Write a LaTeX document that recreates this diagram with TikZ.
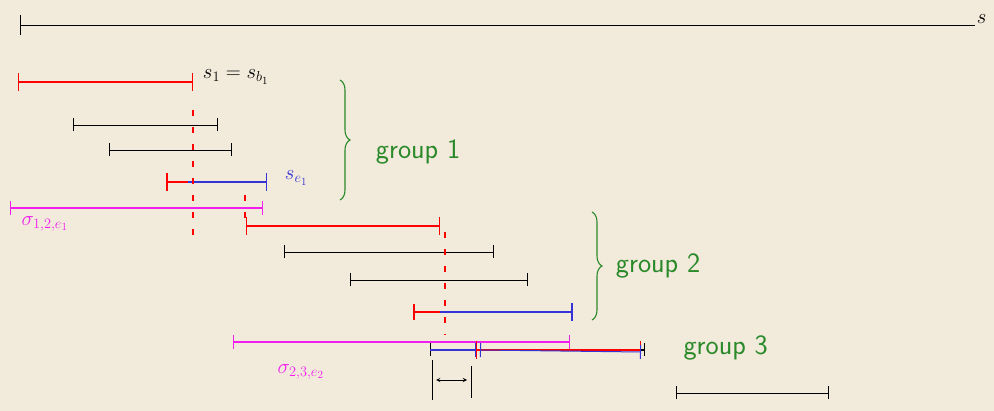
\documentclass[tikz,border=0pt]{standalone}
\usetikzlibrary{decorations.pathreplacing, arrows.meta}
\definecolor{paper}{HTML}{F2EADB}
\definecolor{grpgreen}{HTML}{2A8A2A}
\definecolor{penblue}{HTML}{3434D6}
\definecolor{penmag}{HTML}{F21EEE}
\tikzset{
  seg/.style={{Bar[width=13pt]}-{Bar[width=13pt]}, line width=0.9pt, black},
  redseg/.style={{Bar[width=18pt]}-{Bar[width=18pt]}, red, line width=1.3pt},
  blueseg/.style={-{Bar[width=18pt]}, penblue, line width=1.3pt},
  magseg/.style={{Bar[width=14pt]}-{Bar[width=14pt]}, penmag, line width=1.3pt},
  cut/.style={red, line width=1.1pt, dash pattern=on 6pt off 11pt},
  grpbrace/.style={grpgreen, line width=1.1pt, decorate, decoration={brace, amplitude=10pt}},
  grplabel/.style={grpgreen, font=\fontsize{28}{32}\selectfont\sffamily, right},
  mathlabel/.style={font=\fontsize{21}{24}\selectfont},
}
\begin{document}
\begin{tikzpicture}[x=1pt, y=-1pt, >=stealth]
    \fill[paper] (0,0) rectangle (994,411);
    \useasboundingbox (0,0) rectangle (994,411);

    % ganze Strecke S
    \coordinate (s0) at (20,25);
    \coordinate (s1) at (975,25);
    \draw[{Bar[width=20pt]}-, line width=0.9pt] (s0) -- (s1) node[right, mathlabel, xshift=-2pt, yshift=6pt] (slab) {$s$};

    % Gruppe 1
    \coordinate (a0) at (18,82);   \coordinate (a1) at (193,82);
    \coordinate (b0) at (73,125);  \coordinate (b1) at (218,125);
    \coordinate (c0) at (109,150); \coordinate (c1) at (232,150);
    \coordinate (d0) at (166,182); \coordinate (dm) at (188,182); \coordinate (d1) at (267,182);
    \draw[seg] (a0) -- (a1);
    \draw[redseg] (a0) -- (a1) node[right, black, mathlabel, xshift=6pt, yshift=5pt] (lab1) {$s_1 = s_{b_1}$};
    \draw[seg] (b0) -- (b1);
    \draw[seg] (c0) -- (c1);
    \draw[seg] (d0) -- (d1);
    \draw[red, {Bar[width=18pt]}-, line width=1.8pt] (d0) -- (dm);
    \draw[blueseg] (dm) -- (d1) node[right, penblue, mathlabel, xshift=14pt, yshift=4pt] (lab2) {$s_{e_1}$};

    % Schnitte
    \draw[cut] (193,110) -- (193,240);
    \draw[cut] (245,195) -- (245,218);

    \draw[grpbrace] (340,80) -- (340,200) node[midway, grplabel, xshift=32pt, yshift=-12pt] (g1) {group 1};

    % sigma 1,2
    \coordinate (m0) at (10,208); \coordinate (m1) at (263,208);
    \draw[magseg] (m0) -- (m1);
    \node[penmag, right, mathlabel] (lab3) at (18,224) {$\sigma_{1,2,e_1}$};

    % Gruppe 2
    \coordinate (e0) at (246,226); \coordinate (e1) at (440,226);
    \coordinate (f0) at (284,252); \coordinate (f1) at (494,252);
    \coordinate (h0) at (350,280); \coordinate (h1) at (528,280);
    \coordinate (k0) at (413,312); \coordinate (km) at (440,312); \coordinate (k1) at (573,312);
    \draw[seg] (e0) -- (e1);
    \draw[redseg] (e0) -- (e1);
    \draw[seg] (f0) -- (f1);
    \draw[seg] (h0) -- (h1);
    \draw[seg] (k0) -- (k1);
    \draw[red, {Bar[width=16pt]}-, line width=1.8pt] (k0) -- (km);
    \draw[blueseg, line width=2pt] (km) -- (k1);

    \draw[cut] (445,232) -- (445,335);

    \draw[grpbrace] (592,212) -- (592,320) node[midway, grplabel, xshift=20pt] (g2) {group 2};

    % sigma 2,3
    \coordinate (n0) at (233,342); \coordinate (n1) at (570,342);
    \draw[magseg] (n0) -- (n1);
    \node[penmag, right, mathlabel] (lab4) at (274,372) {$\sigma_{2,3,e_2}$};

    % Gruppe 3
    \coordinate (p0) at (430,350); \coordinate (pb) at (476,350);
    \coordinate (pr) at (641,350); \coordinate (p1) at (645,350);
    \draw[seg, line width=1.1pt] (p0) -- (p1);
    \draw[penblue, -{Bar[width=14pt]}, line width=1.3pt] (p0) -- (pb);
    \draw[redseg] (pb) -- (pr);
    \draw[penblue, {Bar[width=14pt]}-{Bar[width=14pt]}, line width=1pt] ([xshift=4pt]pb) -- ([yshift=-2pt]pr);
    \node[grplabel] (g3) at (680,348) {group 3};

    % Abstand
    \coordinate (q0) at (432,380); \coordinate (q1) at (471,386);
    \draw[line width=0.9pt] ([yshift=-20pt]q0) -- ([yshift=20pt]q0);
    \draw[line width=0.9pt] ([yshift=-12pt]q1) -- ([yshift=20pt]q1);
    \draw[<->, line width=0.9pt] ([xshift=4pt]q0) -- ([xshift=-4pt]q1 |- q0);

    % einzelnes Intervall
    \coordinate (r0) at (676,393); \coordinate (r1) at (829,393);
    \draw[seg] (r0) -- (r1);
\end{tikzpicture}
\end{document}
